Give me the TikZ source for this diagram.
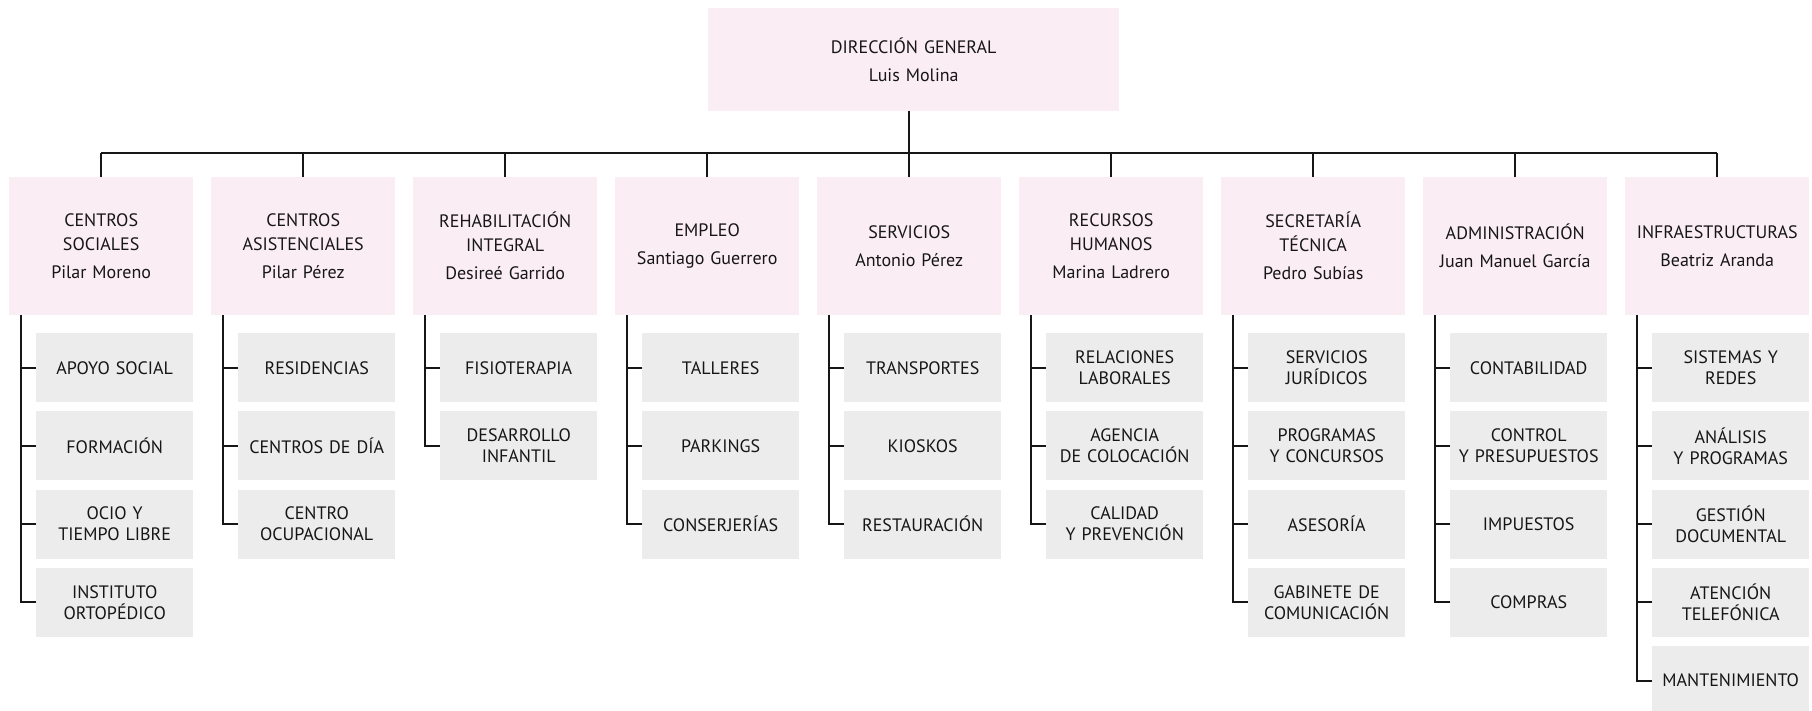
\documentclass[tikz,border=0pt]{standalone}
\usepackage{fontspec}
\setmainfont{PT Sans}
\definecolor{pinkbox}{RGB}{251,237,244}
\definecolor{graybox}{RGB}{236,236,236}
\definecolor{ink}{RGB}{22,22,22}
\begin{document}
\begin{tikzpicture}[x=1pt,y=-1pt,
  dept/.style={fill=pinkbox, anchor=north west, minimum width=184pt, minimum height=138pt,
    text width=180pt, align=center, inner sep=0pt, text=ink, font=\fontsize{18}{24}\selectfont},
  topbox/.style={fill=pinkbox, anchor=north west, minimum width=411pt, minimum height=103pt,
    text width=400pt, align=center, inner sep=0pt, text=ink, font=\fontsize{18}{28}\selectfont},
  sub/.style={fill=graybox, anchor=north west, minimum width=157pt, minimum height=69pt,
    text width=155pt, align=center, inner sep=0pt, text=ink, font=\fontsize{18}{21}\selectfont},
  conn/.style={draw=ink, line width=2pt}
]
\useasboundingbox (0,0) rectangle (1812,710);

\node[topbox] (top) at (708,8) {DIRECCIÓN GENERAL\\Luis Molina};

% departments
\node[dept] (d0) at (9,177)   {CENTROS\\SOCIALES\\[4pt]Pilar Moreno};
\node[dept] (d1) at (211,177) {CENTROS\\ASISTENCIALES\\[4pt]Pilar Pérez};
\node[dept] (d2) at (413,177) {REHABILITACIÓN\\INTEGRAL\\[4pt]Desireé Garrido};
\node[dept] (d3) at (615,177) {EMPLEO\\[4pt]Santiago Guerrero};
\node[dept] (d4) at (817,177) {SERVICIOS\\[4pt]Antonio Pérez};
\node[dept] (d5) at (1019,177) {RECURSOS\\HUMANOS\\[4pt]Marina Ladrero};
\node[dept] (d6) at (1221,177) {SECRETARÍA\\TÉCNICA\\[4pt]Pedro Subías};
\node[dept] (d7) at (1423,177) {ADMINISTRACIÓN\\[4pt]Juan Manuel García};
\node[dept] (d8) at (1625,177) {INFRAESTRUCTURAS\\[4pt]Beatriz Aranda};

% sub units
\node[sub] (s0a) at (36,333)   {APOYO SOCIAL};
\node[sub] (s0b) at (36,411.2) {FORMACIÓN};
\node[sub] (s0c) at (36,489.4) {OCIO Y\\TIEMPO LIBRE};
\node[sub] (s0d) at (36,567.6) {INSTITUTO\\ORTOPÉDICO};

\node[sub] (s1a) at (238,333)   {RESIDENCIAS};
\node[sub] (s1b) at (238,411.2) {CENTROS DE DÍA};
\node[sub] (s1c) at (238,489.4) {CENTRO\\OCUPACIONAL};

\node[sub] (s2a) at (440,333)   {FISIOTERAPIA};
\node[sub] (s2b) at (440,411.2) {DESARROLLO\\INFANTIL};

\node[sub] (s3a) at (642,333)   {TALLERES};
\node[sub] (s3b) at (642,411.2) {PARKINGS};
\node[sub] (s3c) at (642,489.4) {CONSERJERÍAS};

\node[sub] (s4a) at (844,333)   {TRANSPORTES};
\node[sub] (s4b) at (844,411.2) {KIOSKOS};
\node[sub] (s4c) at (844,489.4) {RESTAURACIÓN};

\node[sub] (s5a) at (1046,333)   {RELACIONES\\LABORALES};
\node[sub] (s5b) at (1046,411.2) {AGENCIA\\DE COLOCACIÓN};
\node[sub] (s5c) at (1046,489.4) {CALIDAD\\Y PREVENCIÓN};

\node[sub] (s6a) at (1248,333)   {SERVICIOS\\JURÍDICOS};
\node[sub] (s6b) at (1248,411.2) {PROGRAMAS\\Y CONCURSOS};
\node[sub] (s6c) at (1248,489.4) {ASESORÍA};
\node[sub] (s6d) at (1248,567.6) {GABINETE DE\\COMUNICACIÓN};

\node[sub] (s7a) at (1450,333)   {CONTABILIDAD};
\node[sub] (s7b) at (1450,411.2) {CONTROL\\Y PRESUPUESTOS};
\node[sub] (s7c) at (1450,489.4) {IMPUESTOS};
\node[sub] (s7d) at (1450,567.6) {COMPRAS};

\node[sub] (s8a) at (1652,333)   {SISTEMAS Y\\REDES};
\node[sub] (s8b) at (1652,411.2) {ANÁLISIS\\Y PROGRAMAS};
\node[sub] (s8c) at (1652,489.4) {GESTIÓN\\DOCUMENTAL};
\node[sub] (s8d) at (1652,567.6) {ATENCIÓN\\TELEFÓNICA};
\node[sub] (s8e) at (1652,645.8) {MANTENIMIENTO};

% bus
\coordinate (bus) at (0,153);
\draw[conn] (d0.north |- bus) -- (d8.north |- bus);
\draw[conn] (d4.north |- top.south) -- (d4.north |- bus);
\foreach \i in {0,...,8} {
  \draw[conn] (d\i.north) -- (d\i.north |- bus);
  \coordinate (t\i) at ([xshift=12pt]d\i.south west);
}

% trees
\foreach \col/\last/\subs in {0/d/{a,b,c,d},1/c/{a,b,c},2/b/{a,b},3/c/{a,b,c},4/c/{a,b,c},
    5/c/{a,b,c},6/d/{a,b,c,d},7/d/{a,b,c,d},8/e/{a,b,c,d,e}} {
  \draw[conn] (t\col) |- (s\col\last.west);
  \foreach \s in \subs {
    \draw[conn] (s\col\s.west) -- (s\col\s.west -| t\col);
  }
}
\end{tikzpicture}
\end{document}
